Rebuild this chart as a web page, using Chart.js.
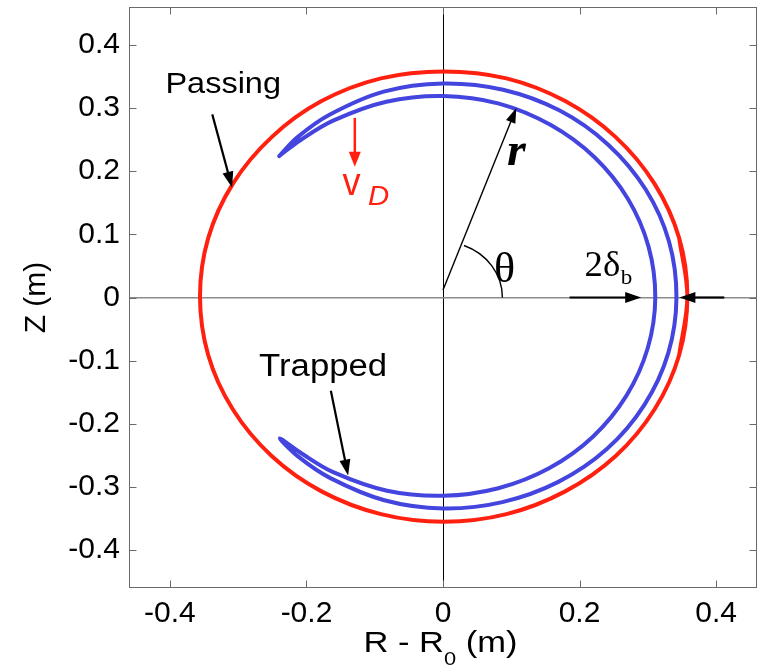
<!DOCTYPE html>
<html><head><meta charset="utf-8">
<script src="https://cdn.jsdelivr.net/npm/chart.js@4.4.1/dist/chart.umd.min.js"></script>
<style>html,body{margin:0;padding:0;background:#fff;overflow:hidden}canvas{display:block}</style>
</head><body>
<canvas id="c" width="762" height="669"></canvas>
<script>
// ---- data (metres) ----
const passingX = [0.346, 0.358, 0.346, 0.310, 0.253, 0.179, 0.093, 0.001, -0.091, -0.178, -0.251, -0.308, -0.344, -0.356, -0.344, -0.308, -0.251, -0.178, -0.091, 0.001, 0.093, 0.179, 0.253, 0.310, 0.346, 0.358, 0.346];
const passingY = [-0.091, 0.002, 0.094, 0.180, 0.254, 0.311, 0.347, 0.358, 0.347, 0.311, 0.254, 0.180, 0.094, 0.002, -0.091, -0.177, -0.251, -0.307, -0.343, -0.355, -0.343, -0.307, -0.251, -0.177, -0.091, 0.002, 0.094];
const trappedX = [-0.240, -0.213, -0.167, -0.087, 0.000, 0.088, 0.171, 0.242, 0.297, 0.331, 0.342, 0.330, 0.295, 0.240, 0.169, 0.087, 0.000, -0.086, -0.165, -0.212, -0.239, -0.207, -0.160, -0.082, 0.000, 0.081, 0.156, 0.220, 0.269, 0.300, 0.311, 0.301, 0.271, 0.222, 0.158, 0.082, 0.000, -0.083, -0.161, -0.209, -0.240];
const trappedY = [0.224, 0.254, 0.289, 0.326, 0.339, 0.329, 0.296, 0.242, 0.171, 0.089, 0.000, -0.088, -0.170, -0.240, -0.292, -0.324, -0.334, -0.321, -0.286, -0.252, -0.223, -0.247, -0.277, -0.306, -0.314, -0.302, -0.270, -0.220, -0.155, -0.080, 0.000, 0.081, 0.156, 0.222, 0.273, 0.307, 0.319, 0.310, 0.280, 0.249, 0.224];

const xTickValues = [-0.4, -0.2, 0, 0.2, 0.4];
const xTickLabels = ['-0.4', '-0.2', '0', '0.2', '0.4'];
const yTickValues = [0.4, 0.3, 0.2, 0.1, 0, -0.1, -0.2, -0.3, -0.4];
const yTickLabels = ['0.4', '0.3', '0.2', '0.1', '0', '-0.1', '-0.2', '-0.3', '-0.4'];
const axisMin = -0.46, axisMax = 0.46;

// ---- annotations (data units) ----
const blackArrows = [            // x0, y0, x1, y1
  [-0.338, 0.290, -0.309, 0.174],   // Passing
  [-0.1643, -0.1476, -0.139, -0.2818], // Trapped
  [0.1854, 0, 0.2903, 0],           // 2δb left
  [0.4121, 0, 0.3463, 0]            // 2δb right
];
const driftArrow = [-0.1292, 0.2844, -0.1292, 0.207];
const radiusArrow = [0, 0.012, 0.1074, 0.300];
const thetaArcRadius = [0.087, 0.088];

const RED = '#ff2010', BLUE = '#4444de';
const SANS = '"Liberation Sans", Arial, Helvetica, sans-serif';
const SERIF = '"Liberation Serif", "Times New Roman", serif';

function toPts(xs, ys) { return xs.map((x, i) => ({ x: x, y: ys[i] })); }

function drawArrow(ctx, x0, y0, x1, y1, color, lw, hl, hw) {
  const dx = x1 - x0, dy = y1 - y0, L = Math.hypot(dx, dy), ux = dx / L, uy = dy / L;
  const bx = x1 - ux * hl, by = y1 - uy * hl;
  ctx.strokeStyle = color; ctx.fillStyle = color; ctx.lineWidth = lw; ctx.lineCap = 'butt';
  ctx.beginPath(); ctx.moveTo(x0, y0); ctx.lineTo(bx + ux * 1, by + uy * 1); ctx.stroke();
  ctx.beginPath(); ctx.moveTo(x1, y1);
  ctx.lineTo(bx - uy * hw / 2, by + ux * hw / 2);
  ctx.lineTo(bx + uy * hw / 2, by - ux * hw / 2);
  ctx.closePath(); ctx.fill();
}
function drawText(ctx, str, x, y, font, color, align, sx) {
  ctx.save(); ctx.translate(x, y); ctx.scale(sx, 1);
  ctx.font = font; ctx.fillStyle = color; ctx.textAlign = align; ctx.textBaseline = 'alphabetic';
  ctx.fillText(str, 0, 0); ctx.restore();
}

const overlay = {
  id: 'overlay',
  afterDraw(chart) {
    const ctx = chart.ctx, xs = chart.scales.x, ys = chart.scales.y, a = chart.chartArea;
    const X = v => xs.getPixelForValue(v), Y = v => ys.getPixelForValue(v);
    ctx.save();
    // frame + inward ticks
    ctx.strokeStyle = '#6a6a6a'; ctx.lineWidth = 1;
    const L = Math.round(a.left) + 0.5, R = Math.round(a.right) - 0.5, T = Math.round(a.top) + 0.5, B = Math.round(a.bottom) - 0.5;
    ctx.strokeRect(L, T, R - L, B - T);
    ctx.beginPath();
    xTickValues.forEach(v => { const p = Math.round(X(v)) + 0.5; ctx.moveTo(p, B); ctx.lineTo(p, B - 7); ctx.moveTo(p, T); ctx.lineTo(p, T + 7); });
    yTickValues.forEach(v => { const p = Math.round(Y(v)) + 0.5; ctx.moveTo(L, p); ctx.lineTo(L + 7, p); ctx.moveTo(R, p); ctx.lineTo(R - 7, p); });
    ctx.stroke();

    // arrows
    blackArrows.forEach(r => drawArrow(ctx, X(r[0]), Y(r[1]), X(r[2]), Y(r[3]), '#000', 2.2, 16, 11));
    drawArrow(ctx, X(driftArrow[0]), Y(driftArrow[1]), X(driftArrow[2]), Y(driftArrow[3]), RED, 2.5, 15, 12);
    drawArrow(ctx, X(radiusArrow[0]), Y(radiusArrow[1]), X(radiusArrow[2]), Y(radiusArrow[3]), '#000', 1.4, 15, 10);

    // theta arc
    const cx = X(0), cy = Y(0);
    const rx = X(thetaArcRadius[0]) - cx, ry = cy - Y(thetaArcRadius[1]);
    const ddx = (X(radiusArrow[2]) - X(radiusArrow[0])) / rx, ddy = (Y(radiusArrow[1]) - Y(radiusArrow[3])) / ry;
    const t = Math.atan2(ddy, ddx);
    ctx.strokeStyle = '#000'; ctx.lineWidth = 1.4;
    ctx.beginPath(); ctx.ellipse(cx, cy, rx, ry, 0, -t, 0); ctx.stroke();

    // labels
    drawText(ctx, 'Passing', X(-0.322), Y(0.324), '29px ' + SANS, '#000', 'center', 1.12);
    drawText(ctx, 'Trapped', X(-0.1756), Y(-0.124), '31px ' + SANS, '#000', 'center', 1.12);
    drawText(ctx, 'v', X(-0.134), Y(0.163), '38px ' + SANS, RED, 'center', 0.95);
    drawText(ctx, 'D', X(-0.110), Y(0.147), 'italic 28px ' + SANS, RED, 'left', 1.05);
    drawText(ctx, 'r', X(0.1074), Y(0.2106), 'italic bold 46px ' + SERIF, '#000', 'center', 1.05);
    drawText(ctx, 'θ', X(0.0903), Y(0.024), '42px ' + SERIF, '#000', 'center', 1.05);
    drawText(ctx, '2δ', X(0.2073), Y(0.0341), '35px ' + SERIF, '#000', 'left', 1.05);
    drawText(ctx, 'b', X(0.2605), Y(0.021), '22px ' + SERIF, '#000', 'left', 1.05);

    // x axis title with subscript
    const sx = 1.15, base = a.bottom + 64;
    ctx.font = '30px ' + SANS; const w1 = ctx.measureText('R - R').width * sx; const w3 = ctx.measureText(' (m)').width * sx;
    ctx.font = '19px ' + SANS; const w2 = ctx.measureText('0').width * sx;
    const start = (a.left + a.right) / 2 - 2.5 - (w1 + w2 + w3) / 2;
    drawText(ctx, 'R - R', start, base, '30px ' + SANS, '#000', 'left', sx);
    drawText(ctx, '0', start + w1, base + 13, '19px ' + SANS, '#000', 'left', sx);
    drawText(ctx, ' (m)', start + w1 + w2, base, '30px ' + SANS, '#000', 'left', sx);
    ctx.restore();
  }
};

new Chart(document.getElementById('c'), {
  type: 'scatter',
  data: {
    datasets: [
      { label: 'Passing', data: toPts(passingX, passingY), showLine: true, borderColor: RED, borderWidth: 4, pointRadius: 0, tension: 0.35, fill: false, borderJoinStyle: 'round', borderCapStyle: 'round' },
      { label: 'Trapped', data: toPts(trappedX, trappedY), showLine: true, borderColor: BLUE, borderWidth: 4, pointRadius: 0, tension: 0.35, fill: false, borderJoinStyle: 'round', borderCapStyle: 'round' }
    ]
  },
  options: {
    responsive: false, animation: false, devicePixelRatio: 1,
    layout: { padding: { top: 7, right: 5, left: 0, bottom: 0 } },
    plugins: { legend: { display: false }, tooltip: { enabled: false } },
    scales: {
      x: {
        type: 'linear', min: axisMin, max: axisMax,
        afterBuildTicks: s => { s.ticks = xTickValues.map(v => ({ value: v })); },
        afterFit: s => { s.height = 81; s.paddingLeft = 0; s.paddingRight = 0; },
        ticks: { callback: (v, i) => xTickLabels[i], font: { family: SANS, size: 30 }, color: '#000', padding: 8, maxRotation: 0, autoSkip: false },
        grid: { drawTicks: false, color: c => (c.tick && c.tick.value === 0) ? '#000' : 'rgba(0,0,0,0)', lineWidth: 1 },
        border: { display: false },
        title: { display: false }
      },
      y: {
        type: 'linear', min: axisMin, max: axisMax,
        afterBuildTicks: s => { s.ticks = yTickValues.map(v => ({ value: v })); },
        afterFit: s => { s.width = 129; s.paddingTop = 0; s.paddingBottom = 0; },
        ticks: { callback: (v, i) => yTickLabels[i], font: { family: SANS, size: 30 }, color: '#000', padding: 9, autoSkip: false },
        grid: { drawTicks: false, color: c => (c.tick && c.tick.value === 0) ? '#8c8c8c' : 'rgba(0,0,0,0)', lineWidth: 1.5 },
        border: { display: false },
        title: { display: true, text: 'Z (m)', font: { family: SANS, size: 30 }, color: '#000', padding: { top: 19, bottom: 0 } }
      }
    }
  },
  plugins: [overlay]
});
</script>
</body></html>
